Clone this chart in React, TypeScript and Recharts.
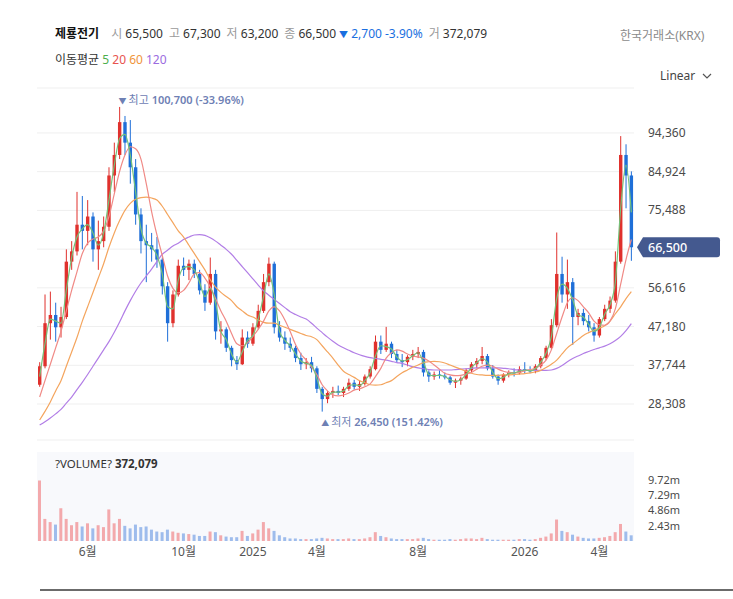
import React from 'react';
import {
  ComposedChart, Bar, Line, XAxis, YAxis, CartesianGrid, ReferenceLine, ReferenceDot, Cell,
} from 'recharts';

const FONT = "'Noto Sans', 'Noto Sans CJK KR', sans-serif";
const UP = '#e0312d';
const DOWN = '#1f6fd8';
const VOL_UP = '#f2a0a3';
const VOL_DOWN = '#93b5ea';

// weekly candles (price in KRW)
const opens = [33000,37500,48000,50000,47000,49500,63000,65500,72000,70500,74000,66000,68000,71500,84000,89000,97000,92000,86000,74500,68000,67000,66000,63500,57000,48000,55000,62000,61000,62500,60000,56000,53000,60000,46000,46500,42000,39000,38000,44500,43000,47000,51000,58000,62500,47000,44500,43000,42000,39500,38000,38500,37000,32000,29500,31000,31500,31000,32000,33500,32500,33200,35000,36800,43500,41500,43000,40500,39000,38500,39800,40500,41000,36000,35000,35500,35200,34800,33500,34000,34500,36500,38000,38800,40000,37000,35000,34000,35500,36000,35800,36800,36500,36300,37500,39500,42000,47500,60000,55000,58000,49500,50500,48500,47000,45000,49000,51500,53500,63000,89000,84000];
const highs = [38500,55000,55700,53000,52000,66000,68000,80000,79000,78000,75000,73000,74000,86000,92000,100700,98500,97500,88000,76000,72000,70000,69000,64000,58000,56000,63500,64000,63500,63500,61000,57500,64000,61000,48500,47000,42500,40000,46500,46000,48000,52500,60000,64000,63000,48500,46000,44500,42500,40800,39500,39800,37500,32500,31500,32500,32800,32500,34500,34200,34000,35500,37500,45000,45000,47100,43500,41500,40500,40200,41500,42200,41500,36500,36200,36500,36000,35200,34500,35000,37000,38500,39500,42200,40500,37800,35500,35800,36500,37000,37500,38500,37500,38000,40000,42500,49000,70100,64200,63500,59000,51500,51500,50000,48000,49500,52500,54500,65500,93600,91600,85000];
const lows = [32500,37000,44000,43500,44500,49000,61000,64500,66000,67000,63000,61000,66500,70500,80000,88000,89000,82000,72000,65000,58000,63000,61500,55000,43500,47000,54500,59500,58500,59000,55000,51000,52500,44000,43000,41000,37500,36600,37800,42000,42500,46500,50500,57000,45500,43500,41500,41000,38500,36600,36800,36000,31000,26450,28500,29800,30500,30000,31500,31800,31500,32800,34500,36500,40500,41000,39500,38300,37300,37500,39000,39500,35000,33700,34200,34500,34300,33000,32200,33000,34200,36000,37000,38000,36500,34500,33000,33500,34800,35000,35500,35800,35800,35800,37000,39000,41500,47000,53000,51500,42700,47500,47500,46000,43500,44500,48500,50500,53000,62500,76000,63200];
const closes = [37500,48000,50000,47000,49500,63000,65500,72000,70500,74000,66000,68000,71500,84000,89000,97000,92000,86000,74500,68000,67000,66000,63500,57000,48000,55000,62000,61000,62500,60000,56000,53000,60000,46000,46500,42000,39000,38000,44500,43000,47000,51000,58000,62500,47000,44500,43000,42000,39500,38000,38500,37000,32000,29500,31000,31500,31000,32000,33500,32500,33200,35000,36800,43500,41500,43000,40500,39000,38500,39800,40500,41000,36000,35000,35500,35200,34800,33500,34000,34500,36500,38000,38800,40000,37000,35000,34000,35500,36000,35800,36800,36500,36300,37500,39500,42000,47500,60000,55000,58000,49500,50500,48500,47000,45000,49000,51500,53500,63000,89000,84000,66500];
// volume, millions of shares
const volumes = [9.6,3.5,3.0,2.6,5.2,3.5,2.5,3.0,2.3,2.8,2.0,2.5,2.2,5.0,2.8,3.5,2.4,2.0,2.6,2.2,2.3,1.8,1.5,1.4,1.8,1.5,1.3,1.2,1.1,1.0,0.8,0.8,1.5,1.4,0.9,0.7,0.6,0.6,1.6,0.8,1.2,1.8,3.0,2.0,1.6,0.9,0.6,0.4,0.4,0.3,0.3,0.3,0.4,0.5,0.4,0.3,0.3,0.3,0.4,0.3,0.3,0.4,0.6,1.4,0.8,0.6,0.4,0.3,0.3,0.3,0.3,0.4,0.5,0.3,0.2,0.2,0.2,0.3,0.2,0.3,0.4,0.4,0.3,0.5,0.3,0.2,0.2,0.2,0.2,0.2,0.3,0.3,0.2,0.3,0.5,0.7,1.2,3.4,1.6,1.4,1.0,0.7,0.5,0.4,0.4,0.5,0.6,0.8,1.4,2.7,1.5,0.9];
// moving averages as drawn
const ma5 = [35000,43000,49000,48500,48000,56000,64000,69000,71000,72000,70000,67000,70000,78000,86500,93000,94000,89000,80000,71000,67500,66500,64500,60000,52000,51500,58500,61500,61800,61000,58000,54500,56500,53000,46000,44000,40500,38500,41000,43800,45000,49000,54500,60000,55000,46000,43800,42500,40500,38800,38200,37800,34500,30800,30200,31200,31200,31500,32800,33000,32800,34000,36000,40000,42500,42300,41700,39800,38800,39100,40100,40800,38500,35500,35200,35300,35000,34200,33800,34200,35500,37200,38400,39400,38500,36000,34500,34800,35700,35900,36300,36600,36400,36900,38500,40700,44700,54000,57500,56500,53700,50000,49500,47700,46000,47000,50200,52500,58000,76000,86500,75000];
const ma20 = [30000,34000,38000,42000,46000,51000,56000,60500,65000,67500,68500,69000,70500,74000,79500,85000,89000,91000,90500,88000,82000,75200,69500,64500,59500,56500,55400,56000,57800,60000,60300,59000,56900,54000,51000,48500,45500,43000,42500,43200,44800,46500,48500,51000,52000,51000,48800,46000,42800,40500,39000,37300,35500,33000,31500,30500,30300,30500,31000,31700,32000,32500,33200,35000,37000,39500,40800,41500,41200,40500,40000,39800,39500,38800,37800,36800,35800,35400,35200,35300,35600,36000,36800,37500,37800,37500,36800,36300,36000,35900,36000,36400,36700,37000,37800,39000,41500,45500,49500,53000,54200,53500,52000,50500,48500,47600,47500,48500,51500,57500,63500,68400];
const ma60 = [24400,26500,28800,31500,34000,37500,41000,44500,48500,52000,55500,59000,62500,66500,70000,73000,75500,77200,78200,78600,78700,78500,78000,76500,74500,72500,70500,69000,67000,65000,63000,61000,58600,56800,55500,54500,53500,52000,51000,50000,49500,48800,48200,48000,48000,47500,47000,46500,46000,45500,45000,44700,44000,42500,41000,39500,37800,36300,35500,34800,34000,33500,33000,32900,33000,33500,34000,35000,35900,36600,37300,37800,38400,38600,38700,38600,38300,37800,37300,36800,36300,35800,35500,35400,35300,35300,35300,35400,35400,35500,35600,35700,35900,36100,36500,37200,38000,39000,40500,42000,43000,44000,45000,45700,46300,46800,47400,48500,50300,52000,54000,55700];
const ma120 = [23200,24000,24900,25900,27000,28500,30000,31800,33600,35500,37500,39500,41500,43500,45800,48300,51000,53500,55800,57800,59500,61200,63000,64800,65800,66800,67500,68400,69000,69500,69600,69400,68800,68000,67000,66000,64800,63300,61800,60300,58800,57300,55900,54800,53800,52800,51800,50800,50100,49500,49000,48000,46800,45700,44600,43600,42700,42000,41400,40800,40300,39900,39600,39400,39200,39000,38700,38400,38200,37800,37400,37100,36900,36700,36600,36600,36600,36600,36700,36800,36900,37000,37100,37100,37100,37100,37100,37000,36900,36700,36600,36500,36500,36500,36500,36500,36600,37000,37700,38600,39400,40000,40600,41100,41600,42000,42400,43000,43800,44800,46200,47900];

const tickIdx = [9, 27, 40, 52, 71, 91, 105];
const tickText = ['6월', '10월', '2025', '4월', '8월', '2026', '4월'];
const priceTicks = [28308, 37744, 47180, 56616, 66052, 75488, 84924, 94360];
const volTicks = [2.43, 4.86, 7.29, 9.72];

const rows = opens.map((o, i) => ({
  i, o, h: highs[i], l: lows[i], c: closes[i], v: volumes[i],
  ma5: ma5[i], ma20: ma20[i], ma60: ma60[i], ma120: ma120[i],
}));

const LAST = closes[closes.length - 1];
const maxIdx = highs.indexOf(Math.max(...highs));
const minIdx = lows.indexOf(Math.min(...lows));
const maxVal = highs[maxIdx];
const minVal = lows[minIdx];
const fmt = (n: number) => n.toLocaleString('en-US');
const pctMax = ((LAST - maxVal) / maxVal * 100).toFixed(2);
const pctMin = ((LAST - minVal) / minVal * 100).toFixed(2);

const W = 733;
const MARGIN_L = 37;
const MARGIN_R = 6;
const YW = 93;

const Candle = (props: any) => {
  const { x, y, width, height, payload } = props;
  if (!payload || x == null) return null;
  const { o, h, l, c } = payload;
  const top = Math.min(y, y + height);
  const hh = Math.abs(height);
  const k = h === l ? 0 : hh / (h - l);
  const yO = top + (h - o) * k;
  const yC = top + (h - c) * k;
  const color = c >= o ? UP : DOWN;
  const cx = x + width / 2;
  return (
    <g>
      <line x1={cx} x2={cx} y1={top} y2={top + hh} stroke={color} strokeWidth={1} />
      <rect x={cx - width / 2} y={Math.min(yO, yC)} width={width} height={Math.max(1, Math.abs(yC - yO))} fill={color} />
    </g>
  );
};

const PriceTick = (p: any) => {
  const v = p.payload.value;
  if (Math.abs(v - LAST) < 2500) return <g />;
  return (
    <text x={p.x} y={p.y} dy={4} textAnchor="start" fill="#4a4a4a" fontSize={12} fontFamily={FONT}>
      {fmt(v)}
    </text>
  );
};

const VolTick = (p: any) => (
  <text x={p.x} y={p.y} dy={4} textAnchor="start" fill="#4a4a4a" fontSize={11} fontFamily={FONT}>
    {`${p.payload.value}m`}
  </text>
);

const PriceTag = (p: any) => {
  const vb = p.viewBox || {};
  const x0 = vb.x + vb.width + 3;
  const yc = vb.y;
  const d = `M${x0},${yc} L${x0 + 6},${yc - 10} L${x0 + 80},${yc - 10} Q${x0 + 83},${yc - 10} ${x0 + 83},${yc - 7} L${x0 + 83},${yc + 7} Q${x0 + 83},${yc + 10} ${x0 + 80},${yc + 10} L${x0 + 6},${yc + 10} Z`;
  return (
    <g>
      <path d={d} fill="#44598f" />
      <text x={x0 + 11} y={yc + 4.5} fill="#ffffff" fontSize={12.5} fontWeight={500} fontFamily={FONT}>{fmt(LAST)}</text>
    </g>
  );
};

const MaxLabel = (p: any) => {
  const vb = p.viewBox || {};
  const x = vb.x + (vb.width || 0) / 2;
  const y = vb.y + (vb.height || 0) / 2;
  return (
    <text x={x - 1} y={y - 3} fontSize={11} fontFamily={FONT} fill="#6e80b4">
      <tspan fontSize={8}>▼</tspan>
      <tspan dx={2}>최고 </tspan>
      <tspan fontWeight={600}>{fmt(maxVal)} ({pctMax}%)</tspan>
    </text>
  );
};

const MinLabel = (p: any) => {
  const vb = p.viewBox || {};
  const x = vb.x + (vb.width || 0) / 2;
  const y = vb.y + (vb.height || 0) / 2;
  return (
    <text x={x - 1} y={y + 14} fontSize={11} fontFamily={FONT} fill="#6e80b4">
      <tspan fontSize={8}>▲</tspan>
      <tspan dx={2}>최저 </tspan>
      <tspan fontWeight={600}>{fmt(minVal)} ({pctMin}%)</tspan>
    </text>
  );
};

const grey = { color: '#9a9a9a' };
const val = { color: '#333', marginRight: 6 };

export default function App() {
  return (
    <div style={{ position: 'absolute', left: 0, top: 0, width: W, height: 599, background: '#fff', fontFamily: FONT, overflow: 'hidden' }}>
      <div style={{ position: 'absolute', left: 55, top: 25, fontSize: 12, whiteSpace: 'nowrap', lineHeight: '18px' }}>
        <span style={{ fontWeight: 700, color: '#111', marginRight: 12 }}>제룡전기</span>
        <span style={grey}>시 </span><span style={val}>65,500</span>
        <span style={grey}>고 </span><span style={val}>67,300</span>
        <span style={grey}>저 </span><span style={val}>63,200</span>
        <span style={grey}>종 </span><span style={{ color: '#333', marginRight: 3 }}>66,500</span>
        <span style={{ color: '#1a6fe0', marginRight: 6 }}><span style={{ fontSize: 9 }}>▼</span> 2,700 -3.90%</span>
        <span style={grey}>거 </span><span style={{ color: '#333' }}>372,079</span>
      </div>
      <div style={{ position: 'absolute', left: 55, top: 51, fontSize: 12, whiteSpace: 'nowrap', lineHeight: '18px', color: '#333' }}>
        이동평균 <span style={{ color: '#4cae4c' }}>5</span> <span style={{ color: '#e8534f' }}>20</span> <span style={{ color: '#f0953a' }}>60</span> <span style={{ color: '#9b6be0' }}>120</span>
      </div>
      <div style={{ position: 'absolute', left: 620, top: 27, fontSize: 12, color: '#8a8a8a', whiteSpace: 'nowrap', lineHeight: '18px' }}>
        한국거래소(KRX)
      </div>
      <div style={{ position: 'absolute', left: 660, top: 67, fontSize: 12, color: '#444', whiteSpace: 'nowrap', lineHeight: '18px' }}>
        Linear
        <svg width="10" height="8" style={{ marginLeft: 7 }} viewBox="0 0 10 8">
          <polyline points="1,2 5,6 9,2" fill="none" stroke="#555" strokeWidth="1.2" />
        </svg>
      </div>

      <div style={{ position: 'absolute', left: 0, top: 0 }}>
        <ComposedChart width={W} height={445} data={rows} margin={{ top: 88, right: MARGIN_R, bottom: 5, left: MARGIN_L }}>
          <CartesianGrid horizontal vertical={false} stroke="#efefef" />
          <XAxis dataKey="i" type="category" hide />
          <YAxis
            orientation="right" width={YW} domain={[19535, 105317]} ticks={priceTicks} interval={0}
            axisLine={false} tickLine={false} tickSize={0} tickMargin={14} tick={<PriceTick />}
            allowDataOverflow
          />
          <Bar dataKey={(d: any) => [d.l, d.h]} barSize={3.4} shape={<Candle />} isAnimationActive={false} />
          <Line type="monotone" dataKey="ma120" stroke="#b27ee6" strokeWidth={1.2} dot={false} isAnimationActive={false} />
          <Line type="monotone" dataKey="ma60" stroke="#f4a55e" strokeWidth={1.2} dot={false} isAnimationActive={false} />
          <Line type="monotone" dataKey="ma20" stroke="#f08a86" strokeWidth={1.2} dot={false} isAnimationActive={false} />
          <Line type="monotone" dataKey="ma5" stroke="#74c27a" strokeWidth={1.2} dot={false} isAnimationActive={false} />
          <ReferenceDot x={maxIdx} y={maxVal} r={0} stroke="none" fill="none" label={<MaxLabel />} ifOverflow="visible" />
          <ReferenceDot x={minIdx} y={minVal} r={0} stroke="none" fill="none" label={<MinLabel />} ifOverflow="visible" />
          <ReferenceLine y={LAST} stroke="none" label={<PriceTag />} ifOverflow="visible" />
        </ComposedChart>
      </div>

      <div style={{ position: 'absolute', left: 0, top: 440 }}>
        <ComposedChart width={W} height={130} data={rows} margin={{ top: 12, right: MARGIN_R, bottom: 9, left: MARGIN_L }}>
          <CartesianGrid horizontal={false} vertical={false} fill="#f8f9fc" stroke="none" />
          <XAxis
            dataKey="i" type="category" ticks={tickIdx} interval={0}
            tickFormatter={(v: any) => tickText[tickIdx.indexOf(Number(v))] ?? ''}
            axisLine={false} tickLine={false} tickSize={0} tickMargin={6} height={20}
            tick={{ fill: '#555', fontSize: 12, fontFamily: FONT }}
          />
          <YAxis
            orientation="right" width={YW} domain={[0, 14.1]} ticks={volTicks} interval={0}
            axisLine={false} tickLine={false} tickSize={0} tickMargin={14}
            tick={<VolTick />}
            allowDataOverflow
          />
          <Bar dataKey="v" barSize={3} isAnimationActive={false}>
            {rows.map((r) => (
              <Cell key={r.i} fill={r.c >= r.o ? VOL_UP : VOL_DOWN} fillOpacity={0.9} />
            ))}
          </Bar>
        </ComposedChart>
      </div>
      <div style={{ position: 'absolute', left: 55, top: 455, fontSize: 11.5, color: '#333', whiteSpace: 'nowrap', lineHeight: '18px' }}>
        ?VOLUME? <b>372,079</b>
      </div>
      <div style={{ position: 'absolute', left: 40, top: 589, width: 693, height: 2, background: '#6b6b6b' }} />
    </div>
  );
}
